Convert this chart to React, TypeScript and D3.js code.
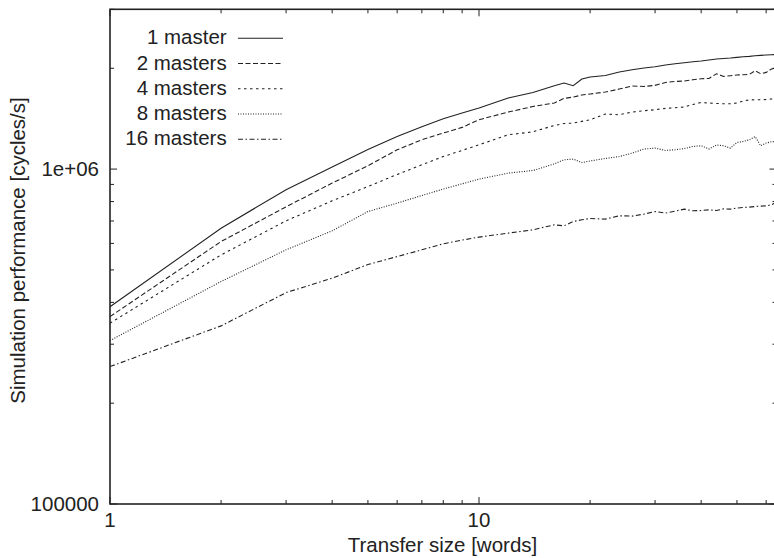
import React from "react";
import * as d3 from "d3";

const xValues = [1,2,3,4,5,6,7,8,9,10,12,14,16,17,18,19,20,22,24,26,28,30,32,34,36,38,40,42,44,46,48,50,52,54,56,58,60,62,64];

const master1 = [388000,666000,868000,1014000,1144000,1251000,1338000,1414000,1470000,1522000,1630000,1694000,1774000,1807000,1774000,1857000,1883000,1904000,1949000,1980000,2004000,2021000,2045000,2063000,2078000,2092000,2102000,2117000,2131000,2140000,2146000,2155000,2165000,2170000,2180000,2185000,2191000,2195000,2200000];
const masters2 = [362700,607700,771500,908200,1023000,1142000,1223000,1281000,1332000,1404000,1480000,1538000,1575000,1626000,1641000,1664000,1676000,1699000,1734000,1770000,1765000,1778000,1814000,1827000,1832000,1849000,1861000,1865000,1926000,1891000,1900000,1910000,1913000,1917000,1967000,1926000,1944000,1990000,2004000];
const masters4 = [346700,554400,700600,804000,887100,963600,1030000,1090000,1137000,1182000,1266000,1292000,1350000,1368000,1372000,1388000,1404000,1460000,1453000,1480000,1494000,1504000,1518000,1525000,1532000,1560000,1581000,1575000,1570000,1567000,1567000,1575000,1597000,1608000,1611000,1611000,1614000,1619000,1622000];
const masters8 = [307600,461600,574100,654100,746900,791300,834000,871600,903800,933400,972900,990400,1037000,1066000,1071000,1046000,1057000,1076000,1090000,1116000,1148000,1155000,1137000,1142000,1152000,1168000,1174000,1148000,1180000,1174000,1155000,1201000,1209000,1223000,1251000,1174000,1196000,1207000,1209000];
const masters16 = [257200,340300,427800,472400,518800,548100,574100,598200,613700,626400,643900,658600,681800,677100,697400,705600,712000,709000,725300,723800,733800,746900,738700,749000,759500,750600,752100,755800,752100,761000,759500,764700,767900,770000,773200,775300,776900,782100,796800];

const seriesNames = ["1 master", "2 masters", "4 masters", "8 masters", "16 masters"];
const seriesData = [master1, masters2, masters4, masters8, masters16];
const dashes = ["none", "5,2.5", "2.5,3.5", "1,1.5", "5,2.5,1.5,2.5"];

const xMajorTicks = [1, 10];
const xMinorTicks = [2,3,4,5,6,7,8,9,20,30,40,50,60];
const yMajorTicks = [100000, 1000000];
const yMajorLabels = ["100000", "1e+06"];
const yMinorTicks = [200000,300000,400000,500000,600000,700000,800000,900000,2000000,3000000];

const W = 774, H = 558;
const L = 110, R = 776.5, T = 9.3, B = 504;
const FONT = "'Liberation Sans', Arial, Helvetica, sans-serif";
const INK = "#222";

export default function App() {
  const x = d3.scaleLog().domain([1, 64]).range([L, R]);
  const y = d3.scaleLog().domain([100000, 3000000]).range([B, T]);
  const line = d3.line<number>()
    .x((_, i) => x(xValues[i]))
    .y((v) => y(v));

  const major = 7, minor = 4;

  return (
    <svg width={W} height={H} style={{ position: "absolute", left: 0, top: 0, background: "#fff" }}>
      <defs>
        <clipPath id="plot">
          <rect x={L} y={T} width={R - L} height={B - T} />
        </clipPath>
      </defs>
      <rect x={0} y={0} width={W} height={H} fill="#fff" />

      {/* ticks */}
      <g stroke={INK} strokeWidth={1}>
        {xMajorTicks.map((t) => (
          <g key={"xM" + t}>
            <line x1={x(t)} x2={x(t)} y1={B} y2={B - major} />
            <line x1={x(t)} x2={x(t)} y1={T} y2={T + major} />
          </g>
        ))}
        {xMinorTicks.map((t) => (
          <g key={"xm" + t}>
            <line x1={x(t)} x2={x(t)} y1={B} y2={B - minor} />
            <line x1={x(t)} x2={x(t)} y1={T} y2={T + minor} />
          </g>
        ))}
        {yMajorTicks.map((t) => (
          <g key={"yM" + t}>
            <line x1={L} x2={L + major} y1={y(t)} y2={y(t)} />
            <line x1={R} x2={R - major} y1={y(t)} y2={y(t)} />
          </g>
        ))}
        {yMinorTicks.map((t) => (
          <g key={"ym" + t}>
            <line x1={L} x2={L + minor} y1={y(t)} y2={y(t)} />
            <line x1={R} x2={R - minor} y1={y(t)} y2={y(t)} />
          </g>
        ))}
      </g>

      {/* data */}
      <g clipPath="url(#plot)" fill="none" stroke={INK} strokeWidth={1.1}>
        {seriesData.map((s, i) => (
          <path key={seriesNames[i]} d={line(s) || ""} strokeDasharray={dashes[i]} />
        ))}
      </g>

      {/* border */}
      <rect x={L} y={T} width={R - L} height={B - T} fill="none" stroke={INK} strokeWidth={1.6} />

      {/* tick labels */}
      <g fontFamily={FONT} fontSize={20.5} fill={INK}>
        {xMajorTicks.map((t) => (
          <text key={"xl" + t} x={x(t)} y={527} textAnchor="middle">{String(t)}</text>
        ))}
        {yMajorTicks.map((t, i) => (
          <text key={"yl" + t} x={99} y={y(t) + 6.5} textAnchor="end">{yMajorLabels[i]}</text>
        ))}
        <text x={442.5} y={551.5} textAnchor="middle">Transfer size [words]</text>
        <text transform={`translate(25,250.5) rotate(-90)`} textAnchor="middle">Simulation performance [cycles/s]</text>
      </g>

      {/* legend */}
      <g fontFamily={FONT} fontSize={20.5} fill={INK}>
        {seriesNames.map((n, i) => {
          const base = 44.3 + i * 25.25;
          return (
            <g key={"lg" + n}>
              <text x={226.7} y={base} textAnchor="end">{n}</text>
              <line x1={238} x2={283} y1={base - 6} y2={base - 6} stroke={INK} strokeWidth={1.1} strokeDasharray={dashes[i]} />
            </g>
          );
        })}
      </g>
    </svg>
  );
}
